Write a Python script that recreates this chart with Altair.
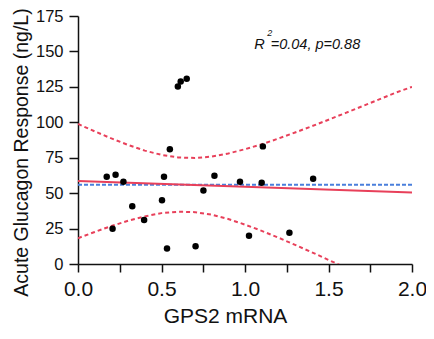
import altair as alt
import pandas as pd

# Scatter points (GPS2 mRNA vs acute glucagon response)
px = [0.172, 0.225, 0.272, 0.207, 0.325, 0.396, 0.503, 0.515, 0.533, 0.55, 0.598,
      0.615, 0.651, 0.704, 0.751, 0.817, 0.97, 1.024, 1.1, 1.107, 1.266, 1.408]
py = [61.6, 62.9, 58.1, 24.9, 40.8, 31.1, 45.0, 61.6, 11.0, 80.9, 125.2,
      128.7, 130.7, 12.5, 51.9, 62.3, 58.1, 20.0, 57.4, 83.0, 22.1, 60.2]

# Fitted line (solid red) and reference line (dotted blue)
fit_x = [0.0, 2.0]
fit_y = [58.5, 50.5]
ref_x = [0.0, 2.0]
ref_y = [56.0, 56.0]

# Confidence band
band_x = [0.0, 0.1, 0.2, 0.3, 0.4, 0.5, 0.6, 0.7, 0.8, 0.9, 1.0,
          1.1, 1.2, 1.3, 1.4, 1.5, 1.6, 1.7, 1.8, 1.9, 2.0]
band_upper = [98.8, 93.6, 88.6, 84.0, 80.0, 77.0, 75.2, 74.8, 75.8, 78.0, 81.0,
              84.5, 88.5, 92.8, 97.2, 101.8, 106.5, 111.2, 116.0, 120.8, 125.0]
band_lower = [18.2, 22.6, 26.8, 30.5, 33.6, 35.9, 36.9, 36.6, 34.8, 31.7, 27.8,
              23.4, 18.6, 13.5, 8.3, 2.9, -2.5, None, None, None, None]

pts = pd.DataFrame({"x": px, "y": py})
fit = pd.DataFrame({"x": fit_x, "y": fit_y})
ref = pd.DataFrame({"x": ref_x, "y": ref_y})
up = pd.DataFrame({"x": band_x, "y": band_upper})
lo = pd.DataFrame({"x": band_x, "y": band_lower}).dropna()

FONT = "Liberation Sans"
RED = "#e8405a"
BLUE = "#4a7fdc"

xs = alt.Scale(domain=[0, 2], nice=False)
ys = alt.Scale(domain=[0, 175], nice=False)

xax = alt.Axis(
    values=[0, 0.25, 0.5, 0.75, 1.0, 1.25, 1.5, 1.75, 2.0],
    labelExpr="(datum.value * 2) % 1 == 0 ? format(datum.value, '.1f') : ''",
    labelFontSize=21, titleFontSize=21, tickSize=8, labelPadding=6,
    titlePadding=6, grid=False, labelFlush=False, labelOverlap=False,
    titleX=147, titleLimit=400,
)
yax = alt.Axis(
    values=[0, 25, 50, 75, 100, 125, 150, 175],
    labelFontSize=16.5, titleFontSize=19.5, tickSize=9, labelPadding=6,
    titlePadding=4, grid=False, labelFlush=False, labelOverlap=False,
    labelBaseline="middle", titleY=136, titleLimit=400,
)

X = alt.X("x:Q", scale=xs, axis=xax, title="GPS2 mRNA")
Y = alt.Y("y:Q", scale=ys, axis=yax, title="Acute Glucagon Response (ng/L)")

upper_line = alt.Chart(up).mark_line(color=RED, strokeWidth=2, strokeDash=[4, 3], clip=True).encode(x=X, y=Y)
lower_line = alt.Chart(lo).mark_line(color=RED, strokeWidth=2, strokeDash=[4, 3], clip=True).encode(x=X, y=Y)
ref_line = alt.Chart(ref).mark_line(color=BLUE, strokeWidth=2, strokeDash=[4, 2]).encode(x=X, y=Y)
fit_line = alt.Chart(fit).mark_line(color=RED, strokeWidth=2).encode(x=X, y=Y)
points = alt.Chart(pts).mark_circle(color="black", size=42, opacity=1).encode(x=X, y=Y)

ann_x = [1.056, 1.133, 1.154]
ann_y = [151.7, 161.2, 151.7]
ann_t = ["R", "2", "=0.04, p=0.88"]
ann_s = [14.5, 9, 14.5]
ann = pd.DataFrame({"x": ann_x, "y": ann_y, "t": ann_t, "s": ann_s})
text = alt.Chart(ann).mark_text(
    align="left", baseline="alphabetic", font=FONT, fontStyle="italic", color="#111"
).encode(
    x=X,
    y=Y,
    text="t:N",
    size=alt.Size("s:Q", scale=None, legend=None),
)

chart = alt.layer(upper_line, lower_line, ref_line, fit_line, points, text).properties(
    width=334, height=248,
    autosize=alt.AutoSizeParams(type="none"),
    padding={"left": 70, "top": 8, "right": 14, "bottom": 62},
).configure_view(stroke=None).configure_axis(
    labelFont=FONT, titleFont=FONT, labelColor="#111", titleColor="#111",
    titleFontWeight="normal", domainColor="#111", tickColor="#111",
    domainWidth=1.5, tickWidth=1.5,
)

chart.save("out.html", embed_options={"renderer": "svg", "actions": False})
